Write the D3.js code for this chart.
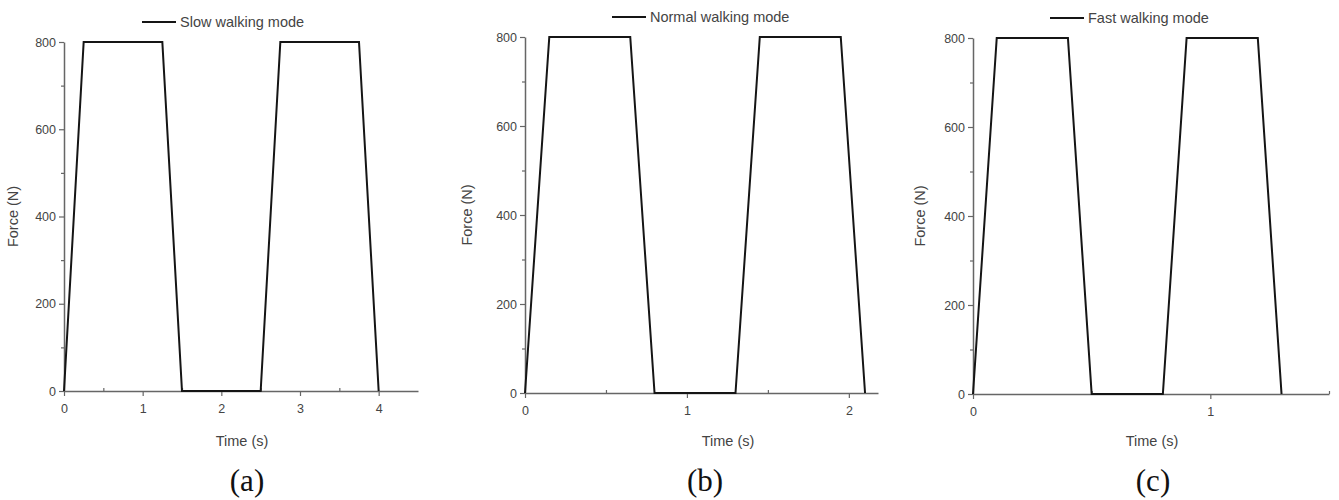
<!DOCTYPE html>
<html>
<head>
<meta charset="utf-8">
<script src="https://cdn.jsdelivr.net/npm/d3@7"></script>
<style>
  body { margin: 0; background: #fff; }
  text { font-family: "Liberation Sans", Arial, sans-serif; fill: #444; }
</style>
</head>
<body>
<svg id="chart" width="1339" height="500"></svg>
<script>
// panel data (time in s, force in N)
var slowTime = [0, 0.25, 1.25, 1.5, 2.5, 2.75, 3.75, 4.0];
var slowForce = [0, 800, 800, 0, 0, 800, 800, 0];
var normalTime = [0, 0.15, 0.65, 0.8, 1.3, 1.45, 1.95, 2.1];
var normalForce = [0, 800, 800, 0, 0, 800, 800, 0];
var fastTime = [0, 0.1, 0.4, 0.5, 0.8, 0.9, 1.2, 1.3];
var fastForce = [0, 800, 800, 0, 0, 800, 800, 0];

var legendNames = ["Slow walking mode", "Normal walking mode", "Fast walking mode"];
var panelLabels = ["(a)", "(b)", "(c)"];
var xMax = [4.5, 2.18, 1.5];
var xMajor = [[0, 1, 2, 3, 4], [0, 1, 2], [0, 1]];
var xMinor = [[0.5, 1.5, 2.5, 3.5], [0.5, 1.5], [0.5, 1.5]];
var yMajor = [0, 200, 400, 600, 800];
var yMinor = [100, 300, 500, 700];

var series = [
  {t: slowTime, f: slowForce},
  {t: normalTime, f: normalForce},
  {t: fastTime, f: fastForce}
];

// layout of each panel (pixel box)
var boxes = [
  {left: 64, right: 418, top: 42, bottom: 391, legX: 142, legY: 22, labX: 247, titleX: 242, yTitleX: 13},
  {left: 525, right: 878, top: 37, bottom: 393, legX: 612, legY: 17, labX: 705, titleX: 728, yTitleX: 467},
  {left: 973, right: 1329, top: 38, bottom: 394, legX: 1050, legY: 18, labX: 1153, titleX: 1152, yTitleX: 920}
];

var svg = d3.select("#chart");
var axisColor = "#666";

boxes.forEach(function (b, i) {
  var x = d3.scaleLinear().domain([0, xMax[i]]).range([b.left, b.right]);
  var y = d3.scaleLinear().domain([0, 800]).range([b.bottom, b.top]);
  var g = svg.append("g");

  // x axis
  var gx = g.append("g")
    .attr("transform", "translate(0," + b.bottom + ")")
    .call(d3.axisBottom(x).tickValues(xMajor[i]).tickSize(5).tickSizeOuter(0).tickFormat(d3.format("d")));
  g.append("g")
    .attr("transform", "translate(0," + b.bottom + ")")
    .call(d3.axisBottom(x).tickValues(xMinor[i]).tickSize(-3).tickSizeOuter(0).tickFormat(""))
    .select(".domain").remove();

  // y axis
  var gy = g.append("g")
    .attr("transform", "translate(" + b.left + ",0)")
    .call(d3.axisLeft(y).tickValues(yMajor).tickSize(5).tickSizeOuter(0).tickFormat(d3.format("d")));
  g.append("g")
    .attr("transform", "translate(" + b.left + ",0)")
    .call(d3.axisLeft(y).tickValues(yMinor).tickSize(3).tickSizeOuter(0).tickFormat(""))
    .select(".domain").remove();

  g.selectAll(".domain").attr("stroke", axisColor).attr("stroke-width", 1.5);
  g.selectAll(".tick line").attr("stroke", axisColor).attr("stroke-width", 1.2);
  g.selectAll(".tick text")
    .attr("fill", "#444")
    .style("font-family", "Liberation Sans, Arial, sans-serif")
    .style("font-size", "12.5px");
  gx.selectAll(".tick text").attr("dy", "1.1em");

  // data line
  var pts = series[i].t.map(function (t, k) { return [t, series[i].f[k]]; });
  g.append("path")
    .datum(pts)
    .attr("fill", "none")
    .attr("stroke", "#151515")
    .attr("stroke-width", 2)
    .attr("d", d3.line().x(function (d) { return x(d[0]); }).y(function (d) { return y(d[1]); }));

  // legend
  g.append("line")
    .attr("x1", b.legX).attr("x2", b.legX + 34)
    .attr("y1", b.legY).attr("y2", b.legY)
    .attr("stroke", "#151515").attr("stroke-width", 2);
  g.append("text")
    .attr("x", b.legX + 38).attr("y", b.legY + 5)
    .style("font-size", "14.5px")
    .text(legendNames[i]);

  // axis titles
  g.append("text")
    .attr("x", b.titleX).attr("y", 446)
    .attr("text-anchor", "middle")
    .style("font-size", "14.5px")
    .text("Time (s)");
  g.append("text")
    .attr("transform", "translate(" + (b.yTitleX + 5) + "," + ((b.top + b.bottom) / 2) + ") rotate(-90)")
    .attr("text-anchor", "middle")
    .style("font-size", "14.5px")
    .text("Force (N)");

  // panel label
  g.append("text")
    .attr("x", b.labX).attr("y", 491)
    .attr("text-anchor", "middle")
    .style("font-family", "Liberation Serif, Times New Roman, serif")
    .style("font-size", "31px")
    .style("fill", "#111")
    .text(panelLabels[i]);
});
</script>
</body>
</html>
